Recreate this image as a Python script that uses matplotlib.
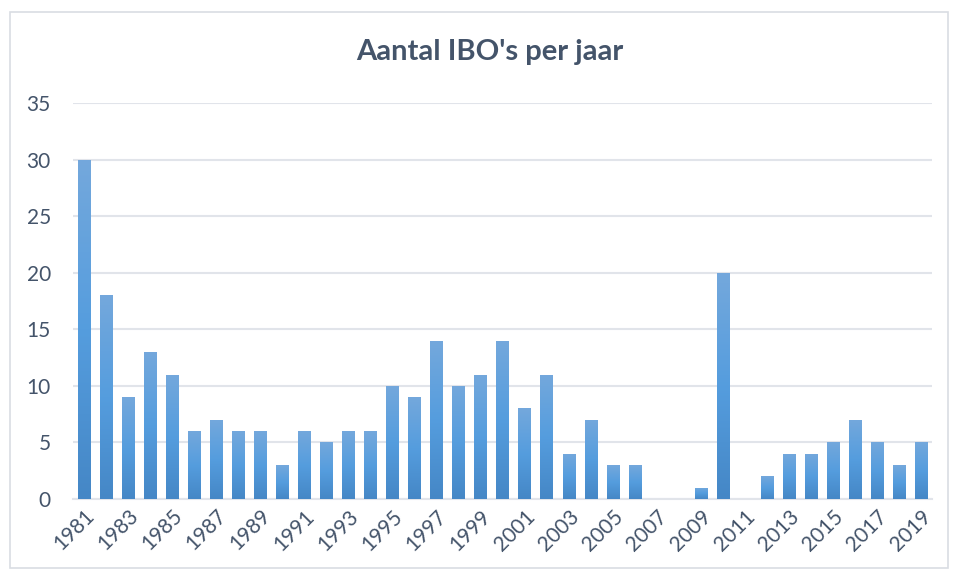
import numpy as np
import matplotlib.pyplot as plt
from matplotlib.colors import LinearSegmentedColormap
from matplotlib.patches import Rectangle

# data
years = list(range(1981, 2020))
ibo_counts = [30, 18, 9, 13, 11, 6, 7, 6, 6, 3,
              6, 5, 6, 6, 10, 9, 14, 10, 11, 14,
              8, 11, 4, 7, 3, 3, 0, 0, 1, 20,
              0, 2, 4, 4, 5, 7, 5, 3, 5]
y_ticks = [0, 5, 10, 15, 20, 25, 30, 35]
title = "Aantal IBO's per jaar"

text_color = "#44546A"
grid_color = "#E1E4EA"
plt.rcParams["font.family"] = ["Lato", "DejaVu Sans"]

fig = plt.figure(figsize=(9.56, 5.8), dpi=100)
ax = fig.add_axes([73 / 956, 1 - 499 / 580, (932 - 73) / 956, (499 - 103) / 580])

# outer chart border
fig.patches.append(Rectangle((10 / 956, 12 / 580), 938 / 956, 556 / 580,
                             transform=fig.transFigure, fill=False,
                             edgecolor="#D9DDE3", linewidth=1.2))

x = np.arange(len(years))
bars = ax.bar(x, ibo_counts, width=0.55, color="#5B9BD5", zorder=3)

# per-bar vertical gradient (light top, darker bottom)
cmap = LinearSegmentedColormap.from_list("bar", ["#4587C6", "#559DDE", "#74A8DC"])
grad = np.linspace(0, 1, 256).reshape(-1, 1)
for b in bars:
    h = b.get_height()
    if h <= 0:
        continue
    x0 = b.get_x()
    im = ax.imshow(grad, cmap=cmap, origin="lower", aspect="auto",
                   extent=[x0, x0 + b.get_width(), 0, h], zorder=4)
    im.set_clip_path(b)

ax.set_xlim(-0.5, len(years) - 0.5)
ax.set_ylim(0, 35)
ax.set_yticks(y_ticks)
ax.set_xticks(x[::2])
ax.set_xticklabels([str(y) for y in years[::2]], rotation=45, ha="right",
                   rotation_mode="anchor")
ax.tick_params(axis="both", length=0, colors=text_color, labelsize=15)
ax.tick_params(axis="y", pad=16)
ax.tick_params(axis="x", pad=5)
ax.grid(axis="y", color=grid_color, linewidth=1.5, zorder=0)
for s in ["top", "right", "left"]:
    ax.spines[s].set_visible(False)
ax.spines["bottom"].set_color(grid_color)
ax.spines["bottom"].set_linewidth(1.5)

fig.text(490 / 956, 1 - 52 / 580, title, ha="center", va="center",
         fontsize=21, fontweight="bold", color=text_color)

fig.savefig("out.png", dpi=100)
